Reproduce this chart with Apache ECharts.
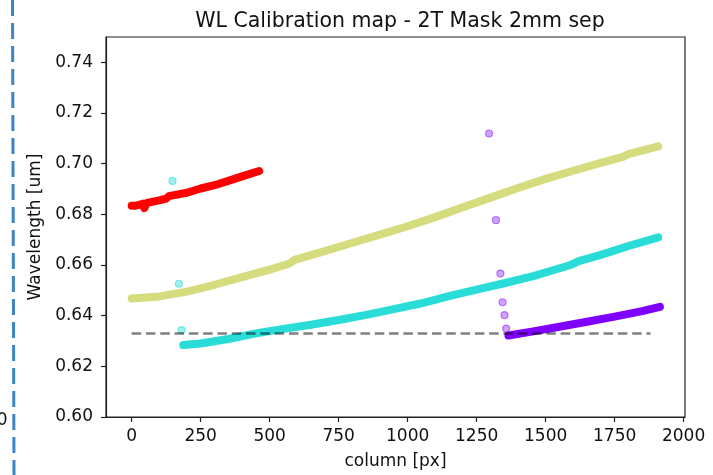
<!DOCTYPE html>
<html>
<head>
<meta charset="utf-8">
<script src="https://cdn.jsdelivr.net/npm/echarts@6/dist/echarts.min.js"></script>
<style>
  html, body { margin: 0; padding: 0; background: #fff; }
  #chart { width: 713px; height: 475px; }
</style>
</head>
<body>
<div id="chart"></div>
<script>
// Wavelength calibration traces: [column px, wavelength um]
const redOrder = [
  [0, 0.6834], [15, 0.6834], [30, 0.6838], [40, 0.6842], [46, 0.6825], [55, 0.6845],
  [100, 0.6855], [125, 0.6862], [135, 0.6872], [200, 0.6885], [250, 0.6902],
  [300, 0.6915], [350, 0.6932], [400, 0.6950], [462, 0.6971]
];
const yellowOrder = [
  [0, 0.6468], [100, 0.6476], [200, 0.6495], [300, 0.6522], [400, 0.6552],
  [500, 0.6582], [570, 0.6605], [590, 0.6620], [700, 0.6655], [800, 0.6688],
  [900, 0.6720], [1000, 0.6753], [1100, 0.6789], [1200, 0.6828], [1300, 0.6866],
  [1400, 0.6904], [1500, 0.6940], [1600, 0.6972], [1700, 0.7003], [1780, 0.7027],
  [1800, 0.7038], [1908, 0.7068]
];
const cyanOrder = [
  [187, 0.6284], [250, 0.6290], [350, 0.6308], [450, 0.6330], [550, 0.6348],
  [650, 0.6364], [750, 0.6383], [850, 0.6403], [950, 0.6426], [1050, 0.6449],
  [1153, 0.6478], [1250, 0.6503], [1350, 0.6528], [1455, 0.6556], [1560, 0.6590],
  [1590, 0.6600], [1620, 0.6615], [1700, 0.6640], [1800, 0.6675], [1908, 0.6709]
];
const purpleOrder = [
  [1365, 0.6322], [1450, 0.6337], [1550, 0.6356], [1650, 0.6376],
  [1750, 0.6396], [1850, 0.6418], [1914, 0.6435]
];
// isolated detections
const cyanStray = [[148, 0.6932], [171, 0.6526], [181, 0.6343]];
const purpleStray = [
  [1295, 0.7119], [1320, 0.6777], [1336, 0.6566],
  [1344, 0.6453], [1351, 0.6402], [1357, 0.6349]
];
// reference wavelength
const refWavelength = 0.633;
const refSpan = [0, 1880];

const xTicks = [0, 250, 500, 750, 1000, 1250, 1500, 1750, 2000];
const yTicks = [0.60, 0.62, 0.64, 0.66, 0.68, 0.70, 0.72, 0.74];

const FONT = 'DejaVu Sans';
const INK = '#111';

function trace(data, color) {
  return {
    type: 'line', data: data, symbol: 'none', silent: true, z: 2,
    lineStyle: { color: color, width: 8, cap: 'round', join: 'round' }
  };
}
function stray(data, fill, edge) {
  return {
    type: 'scatter', data: data, symbolSize: 7, silent: true, z: 3,
    itemStyle: { color: fill, borderColor: edge, borderWidth: 1.2 }
  };
}

const chart = echarts.init(document.getElementById('chart'), null, { renderer: 'canvas' });
chart.setOption({
  animation: false,
  backgroundColor: '#fff',
  title: {
    text: 'WL Calibration map - 2T Mask 2mm sep',
    left: 395, top: 6, textAlign: 'center',
    textStyle: { fontFamily: FONT, fontSize: 20.5, fontWeight: 'normal', color: INK }
  },
  grid: { left: 106, right: 28, top: 37, bottom: 55, show: true, borderColor: '#222', borderWidth: 1.2 },
  xAxis: {
    type: 'value', min: -93, max: 2005,
    name: 'column [px]', nameLocation: 'middle', nameGap: 36,
    nameTextStyle: { fontFamily: FONT, fontSize: 17, color: INK },
    axisLine: { show: true, onZero: false, lineStyle: { color: '#222', width: 1.2 } },
    axisTick: { show: true, length: 5, customValues: xTicks, lineStyle: { color: '#222', width: 1.2 } },
    axisLabel: {
      customValues: xTicks, margin: 11, fontFamily: FONT, fontSize: 17, color: INK,
      formatter: v => String(v)
    },
    splitLine: { show: false }
  },
  yAxis: {
    type: 'value', min: 0.60, max: 0.75,
    name: 'Wavelength [um]', nameLocation: 'middle', nameGap: 56,
    nameTextStyle: { fontFamily: FONT, fontSize: 17, color: INK },
    axisLine: { show: true, onZero: false, lineStyle: { color: '#222', width: 1.2 } },
    axisTick: { show: true, length: 5, customValues: yTicks, lineStyle: { color: '#222', width: 1.2 } },
    axisLabel: {
      customValues: yTicks, margin: 13, fontFamily: FONT, fontSize: 17, color: INK,
      formatter: v => v.toFixed(2)
    },
    splitLine: { show: false }
  },
  series: [
    trace(redOrder, '#ff0000'),
    trace(yellowOrder, '#d4dc7e'),
    trace(cyanOrder, '#2adcd8'),
    trace(purpleOrder, '#8000ff'),
    stray(cyanStray, 'rgba(42,220,216,0.55)', 'rgba(42,220,216,0.7)'),
    stray(purpleStray, 'rgba(128,0,255,0.45)', 'rgba(128,0,255,0.6)'),
    {
      type: 'line', silent: true, symbol: 'none', z: 5,
      data: [[refSpan[0], refWavelength], [refSpan[1], refWavelength]],
      lineStyle: { color: 'rgba(0,0,0,0.5)', width: 2.5, type: [9.5, 4.8] }
    }
  ],
  graphic: [
    {
      type: 'line', silent: true,
      shape: { x1: 12.5, y1: 0, x2: 14, y2: 475 },
      style: { stroke: '#3d85c6', lineWidth: 3, lineDash: [16, 7] }
    },
    {
      type: 'text', silent: true, x: 7.5, y: 421,
      style: {
        text: '0', font: '17px "DejaVu Sans"', fill: INK,
        align: 'right', verticalAlign: 'middle', textAlign: 'right', textVerticalAlign: 'middle'
      }
    }
  ]
});
</script>
</body>
</html>
